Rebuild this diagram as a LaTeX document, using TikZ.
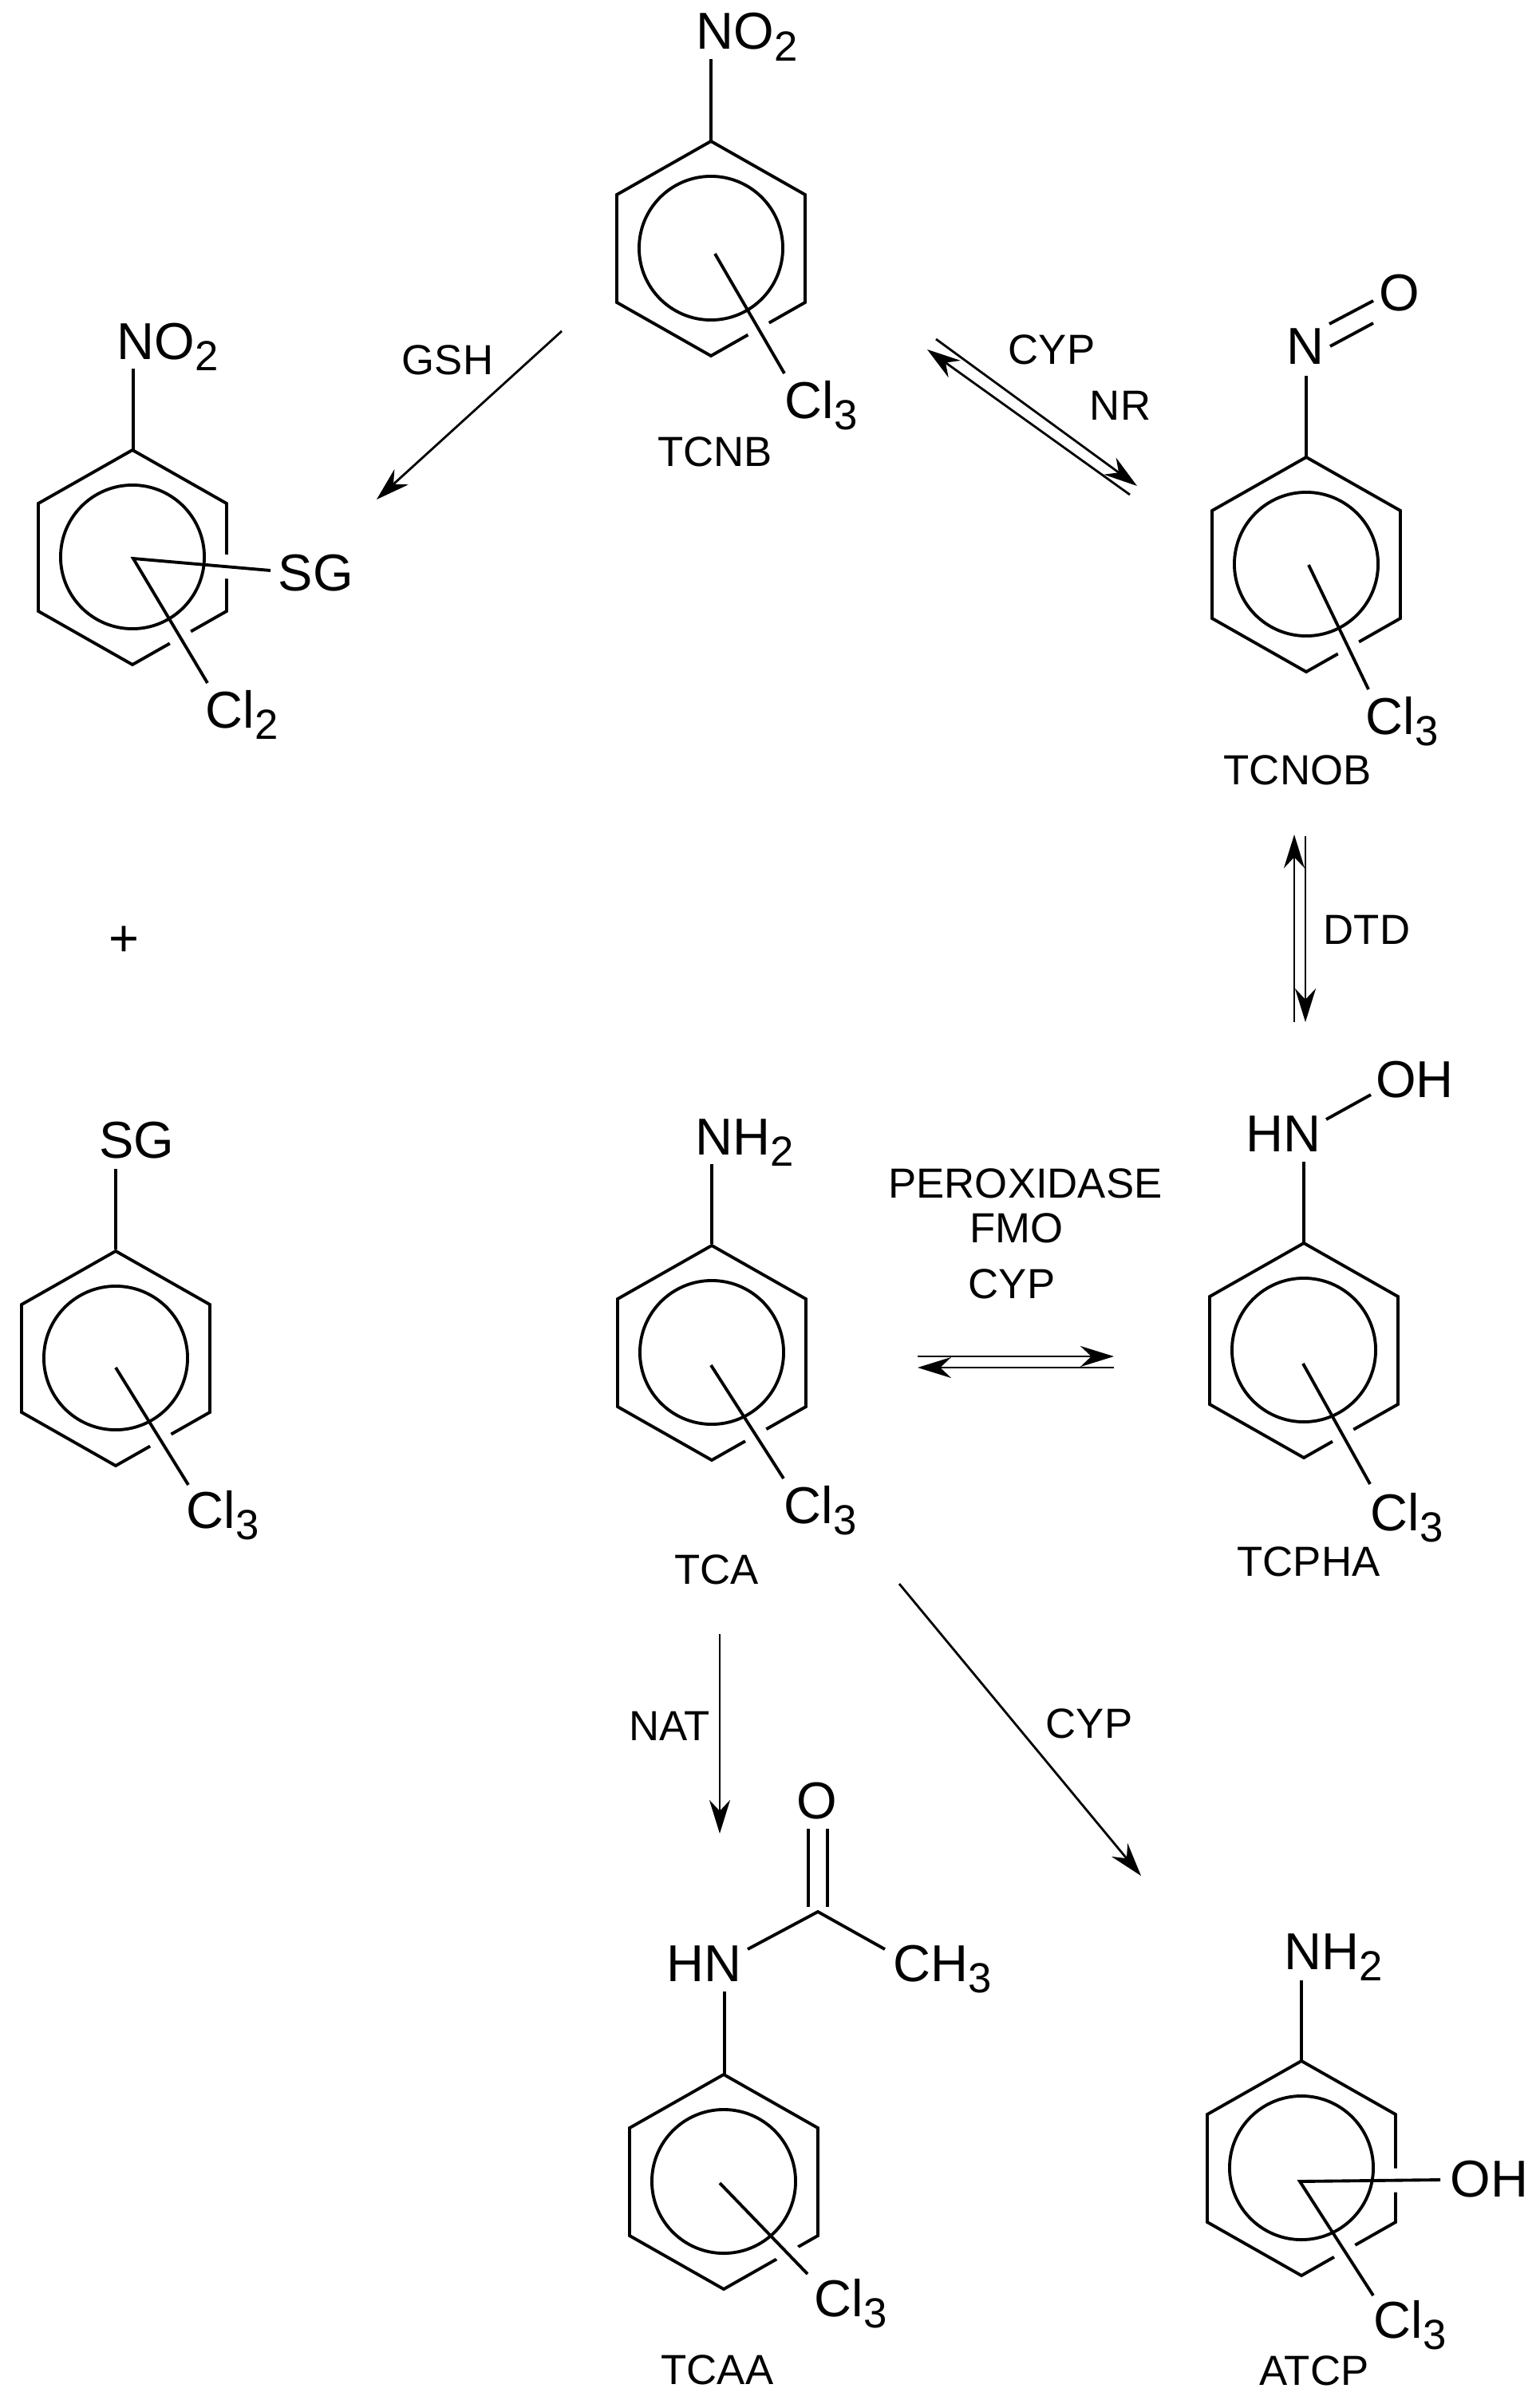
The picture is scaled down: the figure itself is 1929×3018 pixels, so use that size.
\documentclass[tikz,border=0pt]{standalone}
\usepackage{fontspec}
\setmainfont{Liberation Sans}
\usetikzlibrary{arrows.meta,calc}
\newcommand\subs[1]{\raisebox{-0.42ex}{\fontsize{15}{15}\selectfont #1}}
\newcommand\benz[3]{%
  \coordinate (#1) at (#2,#3);
  \draw[bond] ($(#1)+(0,-134)$) -- ++(118,67) -- ++(0,135) -- ++(-118,67) -- ++(-118,-67) -- ++(0,-135) -- cycle;}
\newcommand\circl[1]{\draw[bond] (#1) circle[radius=0.9cm];}
\newcommand\subst[2]{%
  \draw[white,line width=0.3cm] (#1) -- (#2);}
\begin{document}
\begin{tikzpicture}[x=0.01cm,y=-0.01cm,
  bond/.style={line width=1.1pt,line join=miter},
  arr/.style={line width=0.8pt,-{Stealth[length=0.42cm,width=0.26cm]}},
  big/.style={inner sep=0,font=\fontsize{18.5}{20}\selectfont},
  lab/.style={inner sep=0,font=\fontsize{15}{17}\selectfont}]
\useasboundingbox (0,0) rectangle (1929,3018);

% ---------- TCNB ----------
\benz{r1}{891}{311}
\coordinate (r1s) at (896,318); \coordinate (r1e) at (983,468);
\subst{r1s}{r1e}\circl{r1}
\draw[bond] (r1s) -- (r1e);
\draw[bond] (891,177) -- (891,74);
\node[big,anchor=base west] (no2a) at (872,62) {NO\subs{2}};
\node[big,anchor=base west] (cl1) at (983,524) {Cl\subs{3}};
\node[lab] (tcnb) at (896,566) {TCNB};

% ---------- left top ----------
\benz{r2}{166}{698}
\coordinate (r2s) at (167,700); \coordinate (r2a) at (339,715); \coordinate (r2b) at (260,856);
\subst{r2s}{r2a}\subst{r2s}{r2b}\circl{r2}
\draw[bond] (r2a) -- (r2s) -- (r2b);
\draw[bond] (167,564) -- (167,462);
\node[big,anchor=base west] (no2b) at (146,450) {NO\subs{2}};
\node[big,anchor=base west] (sg1) at (348,740) {SG};
\node[big,anchor=base west] (cl2) at (257,912) {Cl\subs{2}};
\node[lab] (gsh) at (561,451) {GSH};
\coordinate (g1) at (704,415); \coordinate (g2) at (472,626);
\draw[arr] (g1) -- (g2);

% ---------- plus ----------
\node[big] (plus) at (155,1180) {+};

% ---------- SG ring ----------
\benz{r3}{145}{1702}
\coordinate (r3s) at (145,1714); \coordinate (r3e) at (236,1861);
\subst{r3s}{r3e}\circl{r3}
\draw[bond] (r3s) -- (r3e);
\draw[bond] (145,1566) -- (145,1465);
\node[big,anchor=base] (sg2) at (171,1451) {SG};
\node[big,anchor=base west] (cl3) at (233,1915) {Cl\subs{3}};

% ---------- TCNOB ----------
\benz{r4}{1637}{707}
\coordinate (r4s) at (1640,708); \coordinate (r4e) at (1715,864);
\subst{r4s}{r4e}\circl{r4}
\draw[bond] (r4s) -- (r4e);
\draw[bond] (1637,573) -- (1637,471);
\node[big,anchor=base] (n4) at (1636,456) {N};
\node[big,anchor=base] (o4) at (1754,389) {O};
\draw[bond] (1666,406) -- (1721,377);
\draw[bond] (1667,434) -- (1721,405);
\node[big,anchor=base west] (cl4) at (1711,920) {Cl\subs{3}};
\node[lab] (tcnob) at (1626,965) {TCNOB};
% equilibrium TCNB <-> TCNOB
\coordinate (e1a) at (1173,425); \coordinate (e1b) at (1425,609);
\coordinate (e2a) at (1416,620); \coordinate (e2b) at (1162,438);
\draw[arr] (e1a) -- (e1b);
\draw[arr] (e2a) -- (e2b);
\node[lab] (cyp1) at (1318,438) {CYP};
\node[lab] (nr) at (1404,508) {NR};

% ---------- DTD ----------
\coordinate (d1a) at (1622,1281); \coordinate (d1b) at (1622,1046);
\coordinate (d2a) at (1636,1048); \coordinate (d2b) at (1636,1281);
\draw[arr] (d1a) -- (d1b);
\draw[arr] (d2a) -- (d2b);
\node[lab] (dtd) at (1713,1165) {DTD};

% ---------- TCPHA ----------
\benz{r5}{1634}{1692}
\coordinate (r5s) at (1633,1709); \coordinate (r5e) at (1717,1860);
\subst{r5s}{r5e}\circl{r5}
\draw[bond] (r5s) -- (r5e);
\draw[bond] (1634,1558) -- (1634,1456);
\node[big,anchor=base] (hn5) at (1608,1443) {HN};
\node[big,anchor=base] (oh5) at (1773,1375) {OH};
\draw[bond] (1662,1403) -- (1718,1372);
\node[big,anchor=base west] (cl5) at (1717,1918) {Cl\subs{3}};
\node[lab] (tcpha) at (1640,1957) {TCPHA};

% ---------- TCA ----------
\benz{r6}{892}{1695}
\coordinate (r6s) at (891,1711); \coordinate (r6e) at (982,1853);
\subst{r6s}{r6e}\circl{r6}
\draw[bond] (r6s) -- (r6e);
\draw[bond] (892,1559) -- (892,1459);
\node[big,anchor=base west] (nh2a) at (871,1447) {NH\subs{2}};
\node[big,anchor=base west] (cl6) at (982,1909) {Cl\subs{3}};
\node[lab] (tca) at (898,1967) {TCA};
% TCA <-> TCPHA
\coordinate (h1a) at (1150,1700); \coordinate (h1b) at (1396,1700);
\coordinate (h2a) at (1396,1714); \coordinate (h2b) at (1150,1714);
\draw[arr] (h1a) -- (h1b);
\draw[arr] (h2a) -- (h2b);
\node[lab] (perox) at (1285,1483) {PEROXIDASE};
\node[lab] (fmo) at (1274,1539) {FMO};
\node[lab] (cyp2) at (1268,1609) {CYP};

% ---------- NAT / CYP ----------
\coordinate (n1) at (902,2048); \coordinate (n2) at (902,2298);
\draw[arr] (n1) -- (n2);
\node[lab] (nat) at (839,2163) {NAT};
\coordinate (c1) at (1127,1985); \coordinate (c2) at (1430,2351);
\draw[arr] (c1) -- (c2);
\node[lab] (cyp3) at (1365,2160) {CYP};

% ---------- TCAA ----------
\benz{r7}{907}{2734}
\coordinate (r7s) at (902,2736); \coordinate (r7e) at (1012,2850);
\subst{r7s}{r7e}\circl{r7}
\draw[bond] (r7s) -- (r7e);
\draw[bond] (908,2599) -- (908,2496);
\node[big,anchor=base] (hn7) at (882,2483) {HN};
\node[big,anchor=base] (o7) at (1024,2279) {O};
\coordinate (c7) at (1025,2396);
\draw[bond] (1013,2292) -- (1013,2390);
\draw[bond] (1037,2292) -- (1037,2390);
\draw[bond] (937,2443) -- (c7) -- (1109,2443);
\node[big,anchor=base west] (ch3) at (1119,2483) {CH\subs{3}};
\node[big,anchor=base west] (cl7) at (1020,2903) {Cl\subs{3}};
\node[lab] (tcaa) at (899,2970) {TCAA};

% ---------- ATCP ----------
\benz{r8}{1631}{2717}
\coordinate (r8s) at (1629,2734); \coordinate (r8a) at (1805,2732); \coordinate (r8b) at (1721,2877);
\subst{r8s}{r8a}\subst{r8s}{r8b}\circl{r8}
\draw[bond] (r8a) -- (r8s) -- (r8b);
\draw[bond] (1631,2582) -- (1631,2482);
\node[big,anchor=base west] (nh2b) at (1609,2468) {NH\subs{2}};
\node[big,anchor=base west] (oh8) at (1817,2753) {OH};
\node[big,anchor=base west] (cl8) at (1721,2930) {Cl\subs{3}};
\node[lab] (atcp) at (1647,2971) {ATCP};
\end{tikzpicture}
\end{document}
